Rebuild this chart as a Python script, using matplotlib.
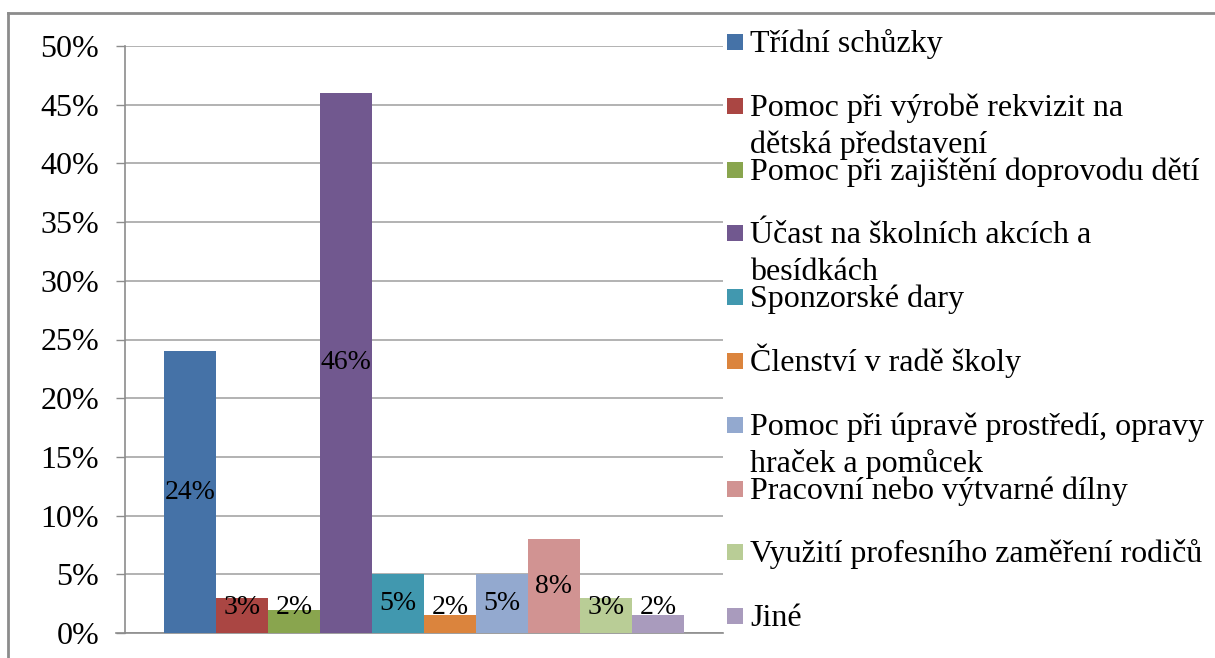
import matplotlib
matplotlib.use("Agg")
import matplotlib.pyplot as plt
from matplotlib.lines import Line2D
from matplotlib.patches import Rectangle

categories = [
    "Třídní schůzky",
    "Pomoc při výrobě rekvizit na\ndětská představení",
    "Pomoc při zajištění doprovodu dětí",
    "Účast na školních akcích a\nbesídkách",
    "Sponzorské dary",
    "Členství v radě školy",
    "Pomoc při úpravě prostředí, opravy\nhraček a pomůcek",
    "Pracovní nebo výtvarné dílny",
    "Využití profesního zaměření rodičů",
    "Jiné",
]
values = [24, 3, 2, 46, 5, 1.5, 5, 8, 3, 1.5]
labels = ["24%", "3%", "2%", "46%", "5%", "2%", "5%", "8%", "3%", "2%"]
colors = ["#4572A7", "#AA4643", "#89A54E", "#71588F", "#4198AF",
          "#DB843D", "#93A9CF", "#D19392", "#B9CD96", "#A99BBD"]
yticks = [0, 5, 10, 15, 20, 25, 30, 35, 40, 45, 50]

plt.rcParams['font.family'] = ['Liberation Serif', 'DejaVu Serif']

W, H = 1215, 658
fig = plt.figure(figsize=(W / 100, H / 100), dpi=100)
ax = fig.add_axes([125 / W, 1 - 633 / H, (723 - 125) / W, (633 - 46) / H])

x = list(range(len(values)))
ax.bar(x, values, width=1.0, color=colors, zorder=3)
for xi, v, lab in zip(x, values, labels):
    ax.text(xi, max(v / 2, 2.2), lab, ha="center", va="center",
            fontsize=20, color="black", zorder=4)

ax.set_xlim(-0.5 - 0.75, len(values) - 0.5 + 0.75)
ax.set_ylim(0, 50)
ax.set_yticks(yticks)
ax.set_yticklabels([f"{t}%" for t in yticks], fontsize=23)
ax.set_xticks([])
ax.yaxis.grid(True, color="#a6a6a6", linewidth=1.2, zorder=0)
ax.tick_params(axis="y", length=6.5, width=1, color="#8c8c8c", pad=12)
for s in ["top", "right"]:
    ax.spines[s].set_visible(False)
for s in ["left", "bottom"]:
    ax.spines[s].set_color("#8c8c8c")
    ax.spines[s].set_linewidth(1.2)
ax.plot([-0.5 - 0.75 - 9 / 52, -0.5 - 0.75], [0, 0], color="#8c8c8c",
        lw=1.2, clip_on=False, zorder=2)

# outer chart border (top and left)
fig.add_artist(Line2D([8 / W, 1.0], [1 - 13 / H, 1 - 13 / H],
                      transform=fig.transFigure, color="#8c8c8c", lw=2))
fig.add_artist(Line2D([8 / W, 8 / W], [0, 1 - 13 / H],
                      transform=fig.transFigure, color="#8c8c8c", lw=2))

# legend drawn manually (Excel-style, evenly spaced entries)
y_first, y_step, line_gap = 42, 63.8, 37
for i, (cat, col) in enumerate(zip(categories, colors)):
    yc = y_first + i * y_step
    fig.add_artist(Rectangle((727 / W, 1 - (yc + 8) / H), 16 / W, 16 / H,
                             transform=fig.transFigure, facecolor=col,
                             edgecolor="none"))
    for j, line in enumerate(cat.split("\n")):
        fig.text(750 / W, 1 - (yc + 10 + j * line_gap) / H, line,
                 fontsize=23, ha="left", va="baseline")

fig.savefig("out.png", dpi=100)
